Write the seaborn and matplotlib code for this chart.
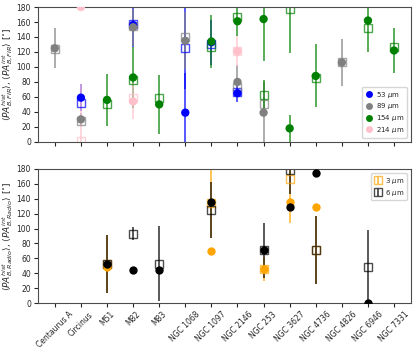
import numpy as np
import pandas as pd
import seaborn as sns
import matplotlib.pyplot as plt

nan = np.nan

galaxies = ["Centaurus A", "Circinus", "M51", "M82", "M83", "NGC 1068", "NGC 1097",
            "NGC 2146", "NGC 253", "NGC 3627", "NGC 4736", "NGC 4826", "NGC 6946", "NGC 7331"]

# FIR bands (top panel): hist = filled circle, int = open square
fir53_gal = ["Circinus", "M82", "NGC 1068", "NGC 1097", "NGC 2146"]
fir53_hist = [59, 156, 39, 133, 65]
fir53_hist_err = [18, 30, 53, 30, 12]
fir53_int = [52, 158, 125, 130, 66]
fir53_int_err = [nan, nan, 55, nan, nan]

fir89_gal = ["Centaurus A", "Circinus", "M82", "NGC 1068", "NGC 2146", "NGC 253", "NGC 4826"]
fir89_hist = [125, 30, 153, 135, 80, 39, 106]
fir89_hist_err = [27, 8, 25, 38, 22, 41, 31]
fir89_int = [124, 28, 155, 140, 73, 50, 107]
fir89_int_err = [nan, nan, nan, nan, nan, nan, nan]

fir154_gal = ["M51", "M82", "M83", "NGC 1097", "NGC 2146", "NGC 253", "NGC 3627",
              "NGC 4736", "NGC 6946", "NGC 7331"]
fir154_hist = [56, 86, 50, 134, 161, 164, 18, 88, 162, 122]
fir154_hist_err = [35, 41, 39, 36, 19, 56, 18, 42, 42, 30]
fir154_int = [50, 83, 59, 126, 167, 62, 177, 85, 152, 127]
fir154_int_err = [nan, nan, nan, nan, nan, 20, 59, nan, nan, nan]

fir214_gal = ["Circinus", "M82", "NGC 2146"]
fir214_hist = [180, 54, 121]
fir214_hist_err = [nan, 24, 20]
fir214_int = [1, 58, 121]
fir214_int_err = [76, nan, nan]

# Radio bands (bottom panel)
rad3_gal = ["M51", "NGC 1097", "NGC 253", "NGC 3627", "NGC 4736"]
rad3_hist = [48, 70, 46, 135, 129]
rad3_int = [52, 134, 46, 167, 71]
rad3_int_err = [39, 47, 16, 60, 46]

rad6_gal = ["M51", "M82", "M83", "NGC 1097", "NGC 253", "NGC 3627", "NGC 4736", "NGC 6946"]
rad6_hist = [53, 45, 44, 136, 71, 129, 175, 0]
rad6_int = [53, 93, 53, 125, 71, 179, 71, 49]
rad6_int_err = [39, 9, 50, 38, 37, 33, 46, 49]


def build(label, gal, hist, int_, int_err, hist_err=None):
    df = pd.DataFrame({"galaxy": gal, "hist": hist, "int": int_, "int_err": int_err})
    df["hist_err"] = hist_err if hist_err is not None else nan
    df["band"] = label
    df["x"] = [galaxies.index(g) for g in gal]
    return df


fir = pd.concat([
    build("53 $\\mu$m", fir53_gal, fir53_hist, fir53_int, fir53_int_err, fir53_hist_err),
    build("89 $\\mu$m", fir89_gal, fir89_hist, fir89_int, fir89_int_err, fir89_hist_err),
    build("154 $\\mu$m", fir154_gal, fir154_hist, fir154_int, fir154_int_err, fir154_hist_err),
    build("214 $\\mu$m", fir214_gal, fir214_hist, fir214_int, fir214_int_err, fir214_hist_err),
], ignore_index=True)
radio = pd.concat([
    build("3 $\\mu$m", rad3_gal, rad3_hist, rad3_int, rad3_int_err),
    build("6 $\\mu$m", rad6_gal, rad6_hist, rad6_int, rad6_int_err),
], ignore_index=True)

fir_colors = {"53 $\\mu$m": "blue", "89 $\\mu$m": "gray",
              "154 $\\mu$m": "green", "214 $\\mu$m": "pink"}
radio_colors = {"3 $\\mu$m": "orange", "6 $\\mu$m": "black"}

sns.set_style("ticks")
plt.rcParams["font.family"] = ["DejaVu Sans"]

fig = plt.figure(figsize=(4.16, 3.52), dpi=100)
ax1 = fig.add_axes([0.091, 0.597, 0.897, 0.383])
ax2 = fig.add_axes([0.091, 0.139, 0.897, 0.381])

leg_kw = dict(fontsize=5, handletextpad=0.4, borderpad=0.4, labelspacing=0.25,
              handlelength=1.2, borderaxespad=0.6, framealpha=0.8)


def draw_open(ax, df, color):
    eb = ax.errorbar(df["x"], df["int"], yerr=df["int_err"], fmt="s", mfc="none",
                     mec=color, ms=5.5, mew=1, ecolor=color, elinewidth=1.3, alpha=0.7)
    if df["hist_err"].notna().any():
        ax.errorbar(df["x"], df["hist"], yerr=df["hist_err"], fmt="none",
                    ecolor=color, elinewidth=1.3, alpha=0.7)
    return eb


for band, color in fir_colors.items():
    draw_open(ax1, fir[fir["band"] == band], color)
sns.scatterplot(data=fir, x="x", y="hist", hue="band", palette=fir_colors,
                s=36, linewidth=0, ax=ax1, zorder=3)
old = ax1.get_legend()
fir_handles = old.legend_handles
fir_labels = [t.get_text() for t in old.get_texts()]
old.remove()
for h in fir_handles:
    h.set_markersize(5)
ax1.legend(fir_handles, fir_labels, loc="lower right", **leg_kw)

handles = []
for band, color in radio_colors.items():
    sub = radio[radio["band"] == band]
    ax2.scatter(sub["x"], sub["hist"], s=36, color=color, linewidth=0, zorder=3)
    handles.append(draw_open(ax2, sub, color))
ax2.legend(handles, list(radio_colors), loc="upper right", **leg_kw)

for ax in (ax1, ax2):
    ax.set_xlim(-0.65, len(galaxies) - 0.35)
    ax.set_ylim(0, 180)
    ax.set_yticks(range(0, 181, 20))
    ax.set_xticks(range(len(galaxies)))
    ax.tick_params(labelsize=5.5, length=3, width=0.8, pad=2)
    ax.set_xlabel("")
    for s in ax.spines.values():
        s.set_linewidth(0.8)
        s.set_color("0.3")

ax1.set_xticklabels([])
ax2.set_xticklabels(galaxies, rotation=45)
ax1.set_ylabel(r"$\langle PA^{hist}_{B,FIR}\rangle$, $\langle PA^{int}_{B,FIR}\rangle$ [$^{\circ}$]",
               fontsize=6.5, labelpad=1)
ax2.set_ylabel(r"$\langle PA^{hist}_{B,Radio}\rangle$, $\langle PA^{int}_{B,Radio}\rangle$ [$^{\circ}$]",
               fontsize=6.5, labelpad=1)

fig.savefig("out.png", dpi=100)
